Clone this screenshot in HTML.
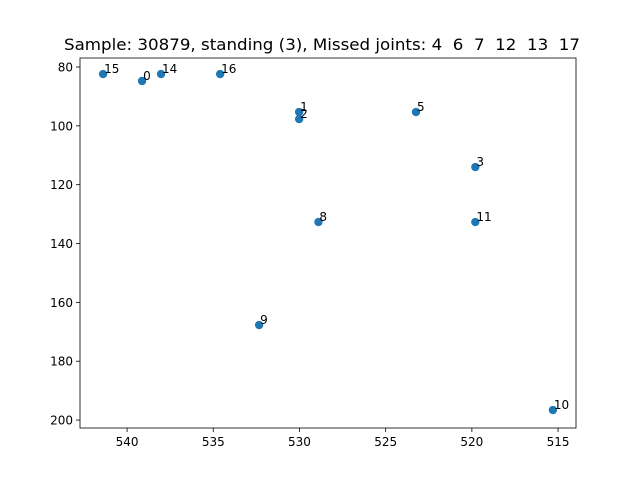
<!DOCTYPE html>
<html><head><meta charset="utf-8"><style>body{margin:0;background:#fff}svg{display:block;font-family:"DejaVu Sans","Liberation Sans",sans-serif}</style></head>
<body>
<svg id="chart" width="640" height="480"></svg>
<script>
const labels=["15","0","14","16","1","2","5","3","11","8","9","10"];
const xs=[541.39,539.13,538.03,534.6,530.02,530.02,523.24,519.8,519.8,528.9,532.34,515.3];
const ys=[82.4,84.76,82.4,82.4,95.3,97.7,95.3,114,132.7,132.7,167.7,196.6];
const xTicks=[540,535,530,525,520,515];
const yTicks=[80,100,120,140,160,180,200];
const L=80,R=576,T=58,B=428;
const xMin=542.73,xMax=513.96,yMin=76.94,yMax=202.7;
const sx=v=>L+(v-xMin)/(xMax-xMin)*(R-L);
const sy=v=>T+(v-yMin)/(yMax-yMin)*(B-T);
const svg=document.getElementById('chart');
const NS='http://www.w3.org/2000/svg';
function mk(t,a,txt){const e=document.createElementNS(NS,t);for(const k in a)e.setAttribute(k,a[k]);if(txt!==undefined)e.textContent=txt;svg.appendChild(e);return e;}
let e=mk('text',{x:64,y:50,'font-size':16,textLength:516,lengthAdjust:'spacingAndGlyphs',style:'white-space:pre'},'Sample: 30879, standing (3), Missed joints: 4  6  7  12  13  17');


xTicks.forEach(v=>{
 let l=mk('line',{x1:sx(v),x2:sx(v),y1:B,y2:B+4,stroke:'#000','stroke-width':0.8});
 
 
 let t=mk('text',{x:sx(v),y:B+18,'text-anchor':'middle','font-size':12},String(v));
 
 
});
yTicks.forEach(v=>{
 let l=mk('line',{x1:L-4,x2:L,y1:sy(v),y2:sy(v),stroke:'#000','stroke-width':0.8});
 
 
 let t=mk('text',{x:L-7,y:sy(v)+4.5,'text-anchor':'end','font-size':12},String(v));
 
 
});
labels.forEach((lb,i)=>{
 let c=mk('circle',{cx:sx(xs[i]),cy:sy(ys[i]),r:4.2,fill:'#1f77b4'});
 
 
 let t=mk('text',{x:sx(xs[i])+1,y:sy(ys[i])-1,'font-size':12},lb);
 
 
});
let f=mk('rect',{x:L,y:T,width:R-L,height:B-T,fill:'none',stroke:'#000','stroke-width':0.8});


</script>
</body></html>
